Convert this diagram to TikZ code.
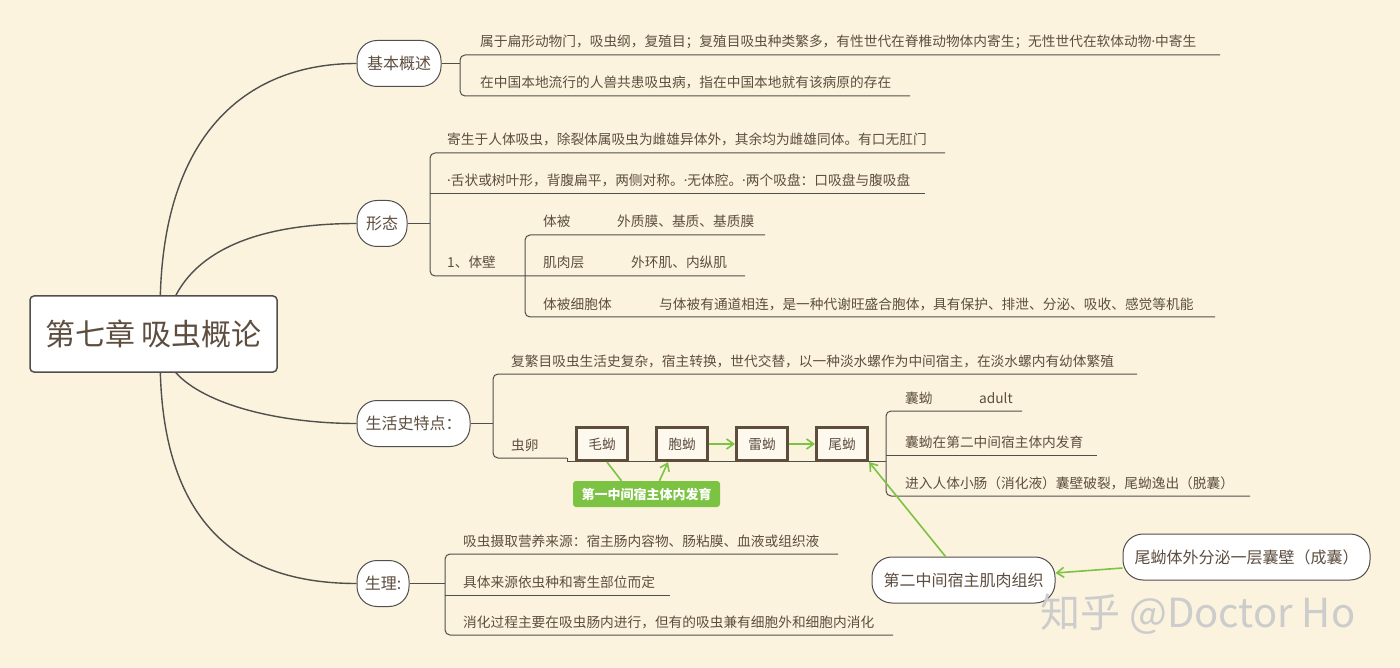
\documentclass[tikz,border=0pt]{standalone}
\usepackage{fontspec}
\setmainfont{Noto Sans CJK SC}
\newfontfamily\latinfont{Noto Sans}
\usepackage{tikz}
\usetikzlibrary{arrows.meta}

\definecolor{paper}{HTML}{FBF3DD}
\definecolor{ink}{HTML}{5E4E40}
\definecolor{wire}{HTML}{4F4F4F}
\definecolor{leafgreen}{HTML}{7CC243}
\definecolor{boxbrown}{HTML}{5F4D3C}

\newcommand{\middot}{{\latinfont ·}}

\tikzset{
  topic/.style={draw=wire, line width=1pt, fill=white, rounded corners=20pt, minimum height=46pt, inner sep=0pt, text=ink, font=\fontsize{16}{18}\selectfont},
  leaf/.style={anchor=base west, inner sep=0pt, text=ink, font=\fontsize{13.7}{16}\selectfont},
  larva/.style={draw=boxbrown, line width=3.2pt, fill=paper!50!white, minimum width=51pt, minimum height=33pt, inner sep=0pt, text=ink, font=\fontsize{13.7}{16}\selectfont},
  branch/.style={draw=wire, line width=1pt, rounded corners=5pt},
  limb/.style={draw=wire, line width=1.4pt},
  gline/.style={draw=leafgreen, line width=1.6pt},
  garrow/.style={gline, -{Straight Barb[length=7pt, width=10pt]}}
}

\begin{document}
\begin{tikzpicture}[x=1pt, y=-1pt]
    % Paper
    \fill[paper] (0,0) rectangle (1400,668);
    \useasboundingbox (0,0) rectangle (1400,668);

    % Central topic
    \node[draw=wire, line width=1.5pt, fill=white, rounded corners=4pt, minimum width=247pt, minimum height=76pt, text=ink, font=\fontsize{30}{32}\selectfont] (root) at (153.5,334) {第七章 吸虫概论};

    % Main topics
    \node[topic, minimum width=84pt] (gaishu) at (399,63.5) {基本概述};
    \node[topic, minimum width=50pt] (xingtai) at (382,223.5) {形态};
    \node[topic, minimum width=113pt] (shenghuo) at (413.5,423.5) {生活史特点：};
    \node[topic, minimum width=52pt] (shengli) at (383,583.5) {生理:};

    % Limbs from the centre
    \draw[limb] (root.80) .. controls (165,130) and (250,63.5) .. (gaishu.west);
    \draw[limb] (root.60) .. controls (205,240) and (280,223.5) .. (xingtai.west);
    \draw[limb] (root.-60) .. controls (205,405) and (280,423.5) .. (shenghuo.west);
    \draw[limb] (root.-80) .. controls (165,535) and (250,583.5) .. (shengli.west);

    % Basic outline
    \coordinate (b1) at (460,63.5);
    \draw[branch] (gaishu.east) -- (b1);
    \draw[branch] (1220,55) -- (460,55) -- (460,96) -- (910,96);
    \node[leaf] (g1) at (480,47) {属于扁形动物门，吸虫纲，复殖目；复殖目吸虫种类繁多，有性世代在脊椎动物体内寄生；无性世代在软体动物\middot 中寄生};
    \node[leaf] (g2) at (480,88) {在中国本地流行的人兽共患吸虫病，指在中国本地就有该病原的存在};

    % Morphology
    \coordinate (b2) at (430,223.5);
    \draw[branch] (xingtai.east) -- (b2);
    \draw[branch] (945,153) -- (430,153) -- (430,276) -- (745,276);
    \draw[branch] (430,194) -- (925,194);
    \draw[branch] (765,235) -- (525,235) -- (525,317) -- (1215,317);
    \node[leaf] (x1) at (447,145) {寄生于人体吸虫，除裂体属吸虫为雌雄异体外，其余均为雌雄同体。有口无肛门};
    \node[leaf] (x2) at (447,186) {\middot 舌状或树叶形，背腹扁平，两侧对称。\middot 无体腔。\middot 两个吸盘：口吸盘与腹吸盘};
    \node[leaf] (x3) at (447,268) {1、体壁};
    \node[leaf] (tibei) at (543,227) {体被};
    \node[leaf] (tibeid) at (617,227) {外质膜、基质、基质膜};
    \node[leaf] (jirou) at (543,268) {肌肉层};
    \node[leaf] (jiroud) at (631,268) {外环肌、内纵肌};
    \node[leaf] (xibao) at (543,309) {体被细胞体};
    \node[leaf] (xibaod) at (659,309) {与体被有通道相连，是一种代谢旺盛合胞体，具有保护、排泄、分泌、吸收、感觉等机能};

    % Life history
    \coordinate (b3) at (493,423.5);
    \draw[branch] (shenghuo.east) -- (b3);
    \draw[branch] (1137,374) -- (493,374) -- (493,458) -- (567,458);
    \draw[wire, line width=1pt] (567,458) -- (567,461) -- (886,461);
    \node[leaf] (s1) at (511,366) {复繁目吸虫生活史复杂，宿主转换，世代交替，以一种淡水螺作为中间宿主，在淡水螺内有幼体繁殖};
    \node[leaf] (chongluan) at (511,450) {虫卵};
    \node[larva] (maoyou) at (602,444) {毛蚴};
    \node[larva] (baoyou) at (682,444) {胞蚴};
    \node[larva] (leiyou) at (762,444) {雷蚴};
    \node[larva] (weiyou) at (842,444) {尾蚴};
    \draw[garrow] (baoyou) -- (leiyou);
    \draw[garrow] (leiyou) -- (weiyou);
    \node[fill=leafgreen, rounded corners=3pt, minimum width=147pt, minimum height=26pt, inner sep=0pt, text=white, font=\bfseries\fontsize{13}{15}\selectfont] (diyi) at (646.5,494) {第一中间宿主体内发育};
    \draw[gline] ([xshift=5pt]maoyou.south) -- ([xshift=-25pt]diyi.north);
    \draw[garrow] ([xshift=13pt]diyi.north) -- ([xshift=-14pt]baoyou.south);

    % Cercaria stages
    \draw[branch] (1022,411) -- (886,411) -- (886,496) -- (1250,496);
    \draw[branch] (886,455) -- (1097,455);
    \node[leaf] (nangyou) at (905,403) {囊蚴};
    \node[leaf] (adult) at (979,403) {adult};
    \node[leaf] (w2) at (905,447) {囊蚴在第二中间宿主体内发育};
    \node[leaf] (w3) at (905,488) {进入人体小肠（消化液）囊壁破裂，尾蚴逸出（脱囊）};

    % Second intermediate host
    \node[topic, minimum width=183pt] (dier) at (963.5,580) {第二中间宿主肌肉组织};
    \node[topic, minimum width=247pt] (chengnang) at (1246.5,557) {尾蚴体外分泌一层囊壁（成囊）};
    \draw[garrow] ([yshift=-11pt]chengnang.west) -- ([yshift=7pt]dier.east);
    \draw[garrow] ([xshift=-18pt]dier.north) -- (weiyou.south east);

    % Physiology
    \coordinate (b4) at (445,583.5);
    \draw[branch] (shengli.east) -- (b4);
    \draw[branch] (838,554) -- (445,554) -- (445,635) -- (893,635);
    \draw[branch] (445,595) -- (670,595);
    \node[leaf] (p1) at (463,546) {吸虫摄取营养来源：宿主肠内容物、肠粘膜、血液或组织液};
    \node[leaf] (p2) at (463,587) {具体来源依虫种和寄生部位而定};
    \node[leaf] (p3) at (463,627) {消化过程主要在吸虫肠内进行，但有的吸虫兼有细胞外和细胞内消化};

    % Watermark
    \node[anchor=base west, inner sep=0pt, text=gray!40, font=\fontsize{40}{42}\selectfont] (mark) at (1040,627) {知乎 @Doctor Ho};
\end{tikzpicture}
\end{document}
